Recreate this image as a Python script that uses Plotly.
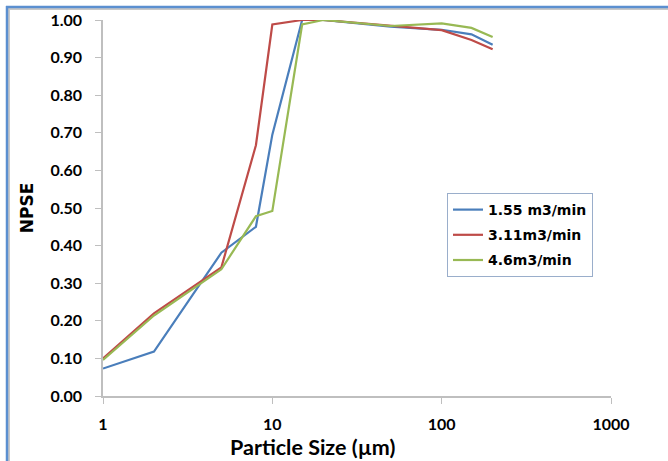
import plotly.graph_objects as go

particle_size = [1, 2, 5, 8, 10, 15, 20, 50, 100, 150, 200]
npse_155 = [0.073, 0.118, 0.381, 0.450, 0.695, 1.000, 1.000, 0.982, 0.974, 0.962, 0.934]
npse_311 = [0.100, 0.220, 0.342, 0.667, 0.988, 1.000, 1.000, 0.984, 0.973, 0.947, 0.922]
npse_46 = [0.096, 0.214, 0.337, 0.478, 0.492, 0.988, 1.000, 0.984, 0.991, 0.979, 0.955]
series_names = ["1.55 m3/min", "3.11m3/min", "4.6m3/min"]
series_colors = ["#4a7ebb", "#be4b48", "#98b954"]
x_ticks = [1, 10, 100, 1000]
y_ticks = [0.0, 0.1, 0.2, 0.3, 0.4, 0.5, 0.6, 0.7, 0.8, 0.9, 1.0]
x_title = "Particle Size (µm)"
y_title = "NPSE"

fig = go.Figure()
for i, (name, vals, col) in enumerate(zip(series_names, [npse_155, npse_311, npse_46], series_colors)):
    fig.add_trace(go.Scatter(x=particle_size, y=vals, mode="lines", name=name,
                             line=dict(color=col, width=2.2), legendgroup=str(i)))

L, R, T, B = 103, 57, 20, 65
W, H = 668, 461
pw, ph = W - L - R, H - T - B

def px(x):
    return (x - L) / pw

def py(y):
    return (H - B - y) / ph

shapes = [
    dict(type="line", xref="paper", yref="paper", x0=px(8), x1=px(W), y0=py(9), y1=py(9),
         line=dict(color="#c8c8c8", width=2)),
    dict(type="line", xref="paper", yref="paper", x0=px(9), x1=px(9), y0=py(8), y1=py(H),
         line=dict(color="#c8c8c8", width=2)),
    dict(type="line", xref="paper", yref="paper", x0=px(6), x1=px(W), y0=py(7), y1=py(7),
         line=dict(color="#5b8fd0", width=2.5)),
    dict(type="line", xref="paper", yref="paper", x0=px(7), x1=px(7), y0=py(6), y1=py(H),
         line=dict(color="#5b8fd0", width=2.5)),
]

tick_font = dict(family="Lato", size=16, color="black", weight="bold")

fig.update_layout(
    width=W, height=H,
    margin=dict(l=L, r=R, t=T, b=B),
    paper_bgcolor="white", plot_bgcolor="white",
    shapes=shapes,
    showlegend=True,
    legend=dict(x=px(447), y=py(193), xanchor="left", yanchor="top",
                bordercolor="#9aaecb", borderwidth=1, bgcolor="white",
                font=dict(family="DejaVu Sans", size=14, color="black", weight="bold"),
                tracegroupgap=4, itemwidth=30),
    annotations=[dict(text=x_title, xref="paper", yref="paper", x=px(312), y=py(447),
                      xanchor="center", yanchor="middle", showarrow=False,
                      font=dict(family="Lato", size=21.5, color="black", weight="bold"))],
    xaxis=dict(type="log", range=[0, 3], tickvals=x_ticks, ticktext=[str(v) for v in x_ticks],
               showgrid=False, zeroline=False, showline=True, linecolor="#bfbfbf", linewidth=1.5,
               ticks="outside", ticklen=6, tickcolor="#bfbfbf", ticklabelstandoff=7,
               tickfont=tick_font, automargin=False),
    yaxis=dict(range=[0, 1.0], tickvals=y_ticks, ticktext=[f"{v:.2f}" for v in y_ticks],
               showgrid=False, zeroline=False, showline=True, linecolor="#bfbfbf", linewidth=1.5,
               ticks="outside", ticklen=6, tickcolor="#bfbfbf", ticklabelstandoff=10,
               tickfont=tick_font, automargin=False,
               title=dict(text=y_title, standoff=12,
                          font=dict(family="DejaVu Sans", size=17, color="black", weight="bold"))),
)

fig.write_html("out.html")
